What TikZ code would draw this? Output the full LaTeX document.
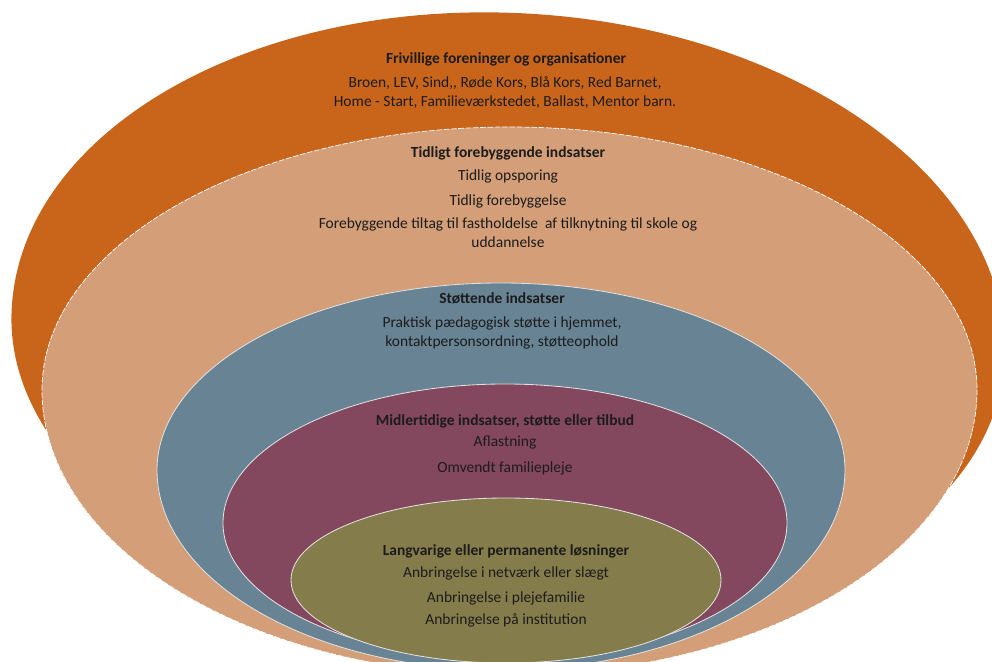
\documentclass[tikz,border=0pt]{standalone}
\usepackage{fontspec}
\setmainfont{Carlito}
\definecolor{frivorange}{RGB}{200,101,27}
\definecolor{tidligtan}{RGB}{211,158,120}
\definecolor{stotblue}{RGB}{104,131,147}
\definecolor{midlmaroon}{RGB}{131,71,94}
\definecolor{langolive}{RGB}{133,124,75}
\definecolor{textdark}{RGB}{28,28,28}
\def\egg[#1](#2,#3)(#4:#5:#6){\draw[#1] ({#2-#4},#3) arc[start angle=180,end angle=0,x radius=#4,y radius=#5] arc[start angle=0,end angle=-180,x radius=#4,y radius=#6] -- cycle;}

\begin{document}
\begin{tikzpicture}[x=0.025cm,y=0.025cm,
	title/.style={font=\fontsize{11}{13.5}\selectfont\bfseries, text=textdark},
	body/.style={text=textdark, align=center, font=\fontsize{11}{13.5}\selectfont},
	rim/.style={draw=white!88!black, line width=0.6pt}]
	%%%%% START %%%%%
	\useasboundingbox (0,0) rectangle (992,662);
	\clip (0,0) rectangle (992,662);
	
	\egg[fill=frivorange, draw=none, rotate around={-3:(508,327)}](508,327)(497:322:300)
	\egg[fill=tidligtan, draw=white, dash pattern=on 4pt off 1.2pt, line width=0.5pt](509.5,272)(467.5:263:285)
	\egg[fill=stotblue, rim](501,192)(344:187:200)
	\egg[fill=midlmaroon, rim](505,139)(282:139:137)
	\egg[fill=langolive, rim](506,82)(215:82:83)
	
	% frivillige
	\node[title] (frivtitle) at (506,603) {Frivillige foreninger og organisationer};
	\node[body] (frivtext) at (505,569.5) {Broen, LEV, Sind,{},  Røde Kors, Blå Kors, Red Barnet,\\Home - Start, Familieværkstedet, Ballast, Mentor barn.};
	
	% tidligt
	\node[title] (tidltitle) at (508,509) {Tidligt forebyggende indsatser};
	\node[body] (tidlops) at (508,486) {Tidlig opsporing};
	\node[body] (tidlfor) at (508,461) {Tidlig forebyggelse};
	\node[body] (tidltiltag) at (508,429.5) {Forebyggende tiltag til fastholdelse\ \ af tilknytning til skole og\\uddannelse};
	
	% stoettende
	\node[title] (stottitle) at (502,364) {Støttende indsatser};
	\node[body] (stottext) at (502,329.5) {Praktisk pædagogisk støtte i hjemmet,\\kontaktpersonsordning, støtteophold};
	
	% midlertidige
	\node[title] (midltitle) at (505,241) {Midlertidige indsatser, støtte eller tilbud};
	\node[body] (midlafl) at (505,219) {Aflastning};
	\node[body] (midlomv) at (505,194) {Omvendt familiepleje};
	
	% langvarige
	\node[title] (langtitle) at (506,111) {Langvarige eller permanente løsninger};
	\node[body] (langnet) at (506,89) {Anbringelse i netværk eller slægt};
	\node[body] (langpleje) at (506,64) {Anbringelse i plejefamilie};
	\node[body] (langinst) at (506,42) {Anbringelse på institution};
	
	%%%%% END %%%%%
\end{tikzpicture}
\end{document}
